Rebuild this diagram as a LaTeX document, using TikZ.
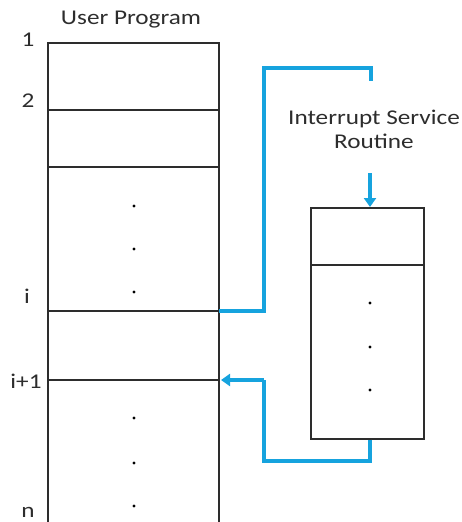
\documentclass[tikz,border=0pt]{standalone}
\usepackage{fontspec}
\setmainfont[FakeStretch=1.2]{Carlito}
\usetikzlibrary{arrows.meta}
\definecolor{flow}{RGB}{22,163,222}
\definecolor{ink}{RGB}{45,45,45}
\tikzset{
  box/.style={draw=ink, line width=1.7pt},
  lbl/.style={font=\fontsize{21}{24}\selectfont, text=ink, inner sep=0pt},
  dotmark/.style={circle, fill=black, inner sep=0pt, minimum size=3.4pt},
  flowline/.style={draw=flow, line width=3.4pt},
  flowarrow/.style={flowline, -{Triangle[width=12pt,length=9pt]}},
}
\begin{document}
\begin{tikzpicture}[x=1pt,y=-1pt]
\useasboundingbox (0,0) rectangle (461,522);
% user program
\coordinate (ptl) at (48,43);
\coordinate (ptr) at (219,43);
\draw[box] (48,522) -- (ptl) -- (ptr) -- (219,522);
\coordinate (l2a) at (48,110); \coordinate (l2b) at (219,110);
\coordinate (l3a) at (48,167); \coordinate (l3b) at (219,167);
\coordinate (lia) at (48,311); \coordinate (lib) at (219,311);
\coordinate (lja) at (48,380); \coordinate (ljb) at (219,380);
\draw[box] (l2a) -- (l2b);
\draw[box] (l3a) -- (l3b);
\draw[box] (lia) -- (lib);
\draw[box] (lja) -- (ljb);
\node[lbl] (title) at (131,20) {User Program};
\node[lbl] (n1) at (28,40) {1};
\node[lbl] (n2) at (28,101) {2};
\node[lbl] (ni) at (27,296) {i};
\node[lbl] (nj) at (26,381) {i+1};
\node[lbl] (nn) at (28,512) {n};
\node[dotmark] (d1) at (134,206) {};
\node[dotmark] (d2) at (134,249) {};
\node[dotmark] (d3) at (134,292) {};
\node[dotmark] (d4) at (134,418) {};
\node[dotmark] (d5) at (134,463) {};
\node[dotmark] (d6) at (134,506) {};
% ISR
\node[box, minimum width=113pt, minimum height=231pt, inner sep=0pt, anchor=north west] (isr) at (310,207) {};
\draw[box] (310,265) -- (423,265);
\node[lbl, align=center] (isrt) at (374,129) {Interrupt Service\\Routine};
\node[dotmark] (e1) at (370,303) {};
\node[dotmark] (e2) at (370,347) {};
\node[dotmark] (e3) at (370,390) {};
% flow
\coordinate (b1) at (264,311);
\coordinate (b2) at (264,68);
\coordinate (b3) at (371,68);
\coordinate (b4) at (371,81);
\draw[flowline] (lib) -- (b1) -- (b2) -- (b3) -- (b4);
\coordinate (a0) at (370,173);
\draw[flowarrow] (a0) -- (isr.north -| a0);
\coordinate (r1) at (370,461);
\coordinate (r2) at (264,461);
\coordinate (r3) at (264,380);
\draw[flowline] (isr.south -| r1) -- (r1) -- (r2) -- (r3);
\draw[flowarrow] (r3) -- (221,380);
\end{tikzpicture}
\end{document}
